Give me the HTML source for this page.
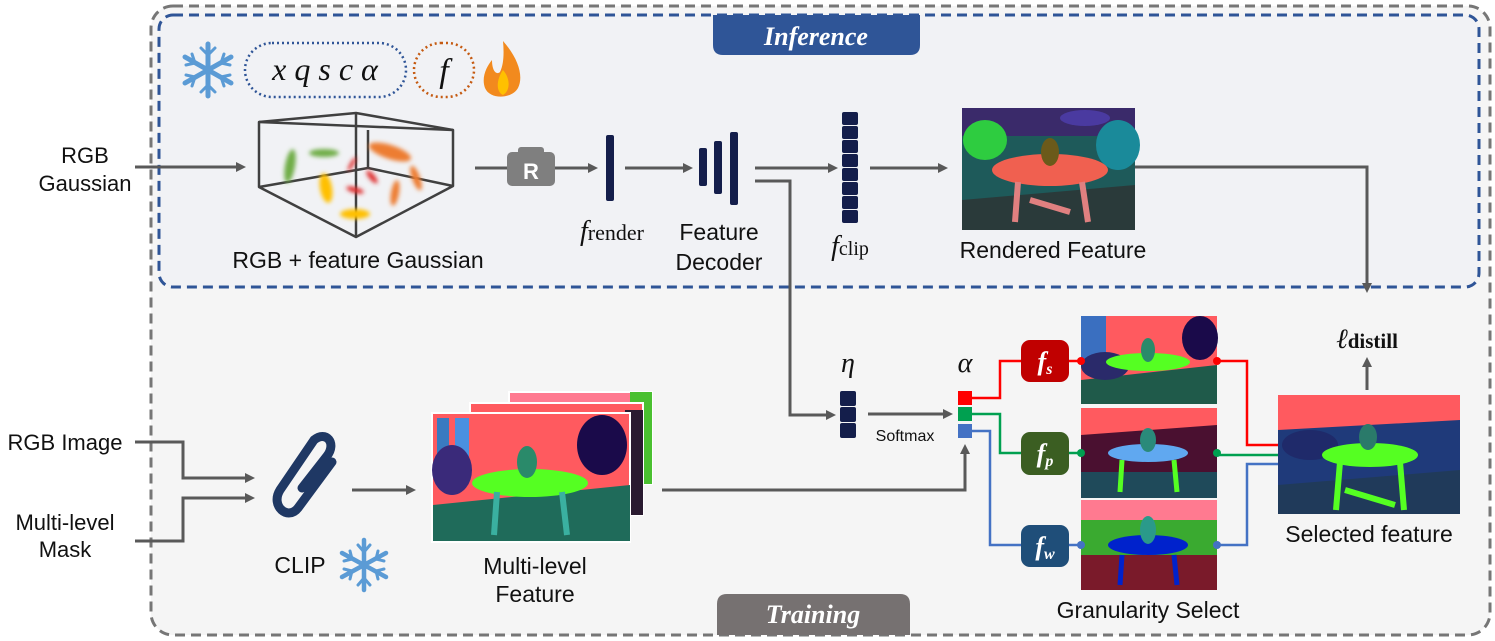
<!DOCTYPE html>
<html><head><meta charset="utf-8"><style>
body{margin:0;background:#fff}
svg{display:block}
text{font-family:"Liberation Sans","DejaVu Sans",sans-serif;fill:#111}
.s{font-family:"Liberation Serif","DejaVu Serif",serif;font-style:italic}
</style></head><body>
<svg width="1495" height="641" viewBox="0 0 1495 641" xmlns="http://www.w3.org/2000/svg">
<defs>
<marker id="ar" markerWidth="10" markerHeight="10" refX="7" refY="5" orient="auto" markerUnits="userSpaceOnUse"><path d="M0,0 L10,5 L0,10 z" fill="#595959"/></marker>
<filter id="bl"><feGaussianBlur stdDeviation="2"/></filter>
</defs>
<rect x="151" y="6" width="1339" height="629" rx="22" fill="#f5f5f5" stroke="#767676" stroke-width="3" stroke-dasharray="10,6"/>
<rect x="159" y="15" width="1320" height="272" rx="14" fill="#f1f2f5" stroke="#2f5597" stroke-width="3" stroke-dasharray="10,6"/>
<path d="M713,15 H920 V45 Q920,55 910,55 H723 Q713,55 713,45 Z" fill="#2f5597"/>
<text x="816" y="45" text-anchor="middle" class="s" font-weight="bold" font-size="26" style="fill:#fff">Inference</text>
<path d="M717,604 Q717,594 727,594 H900 Q910,594 910,604 V635 H717 Z" fill="#767171"/>
<text x="813" y="623" text-anchor="middle" class="s" font-weight="bold" font-size="26" style="fill:#fff">Training</text>

<g transform="translate(208,70)" stroke="#5b9bd5" stroke-width="5" stroke-linecap="round" fill="none">
<path d="M0,-26V26M-23,-13L23,13M-23,13L23,-13"/>
<path d="M-7,-22L0,-15L7,-22M-7,22L0,15L7,22M-22,-5L-13,-7L-16,-16M22,5L13,7L16,16M-22,5L-13,7L-16,16M22,-5L13,-7L16,-16" stroke-width="3"/>
</g>
<rect x="245" y="43" width="161" height="54" rx="27" fill="none" stroke="#2f5597" stroke-width="2.5" stroke-dasharray="2,3"/>
<text x="325" y="80" text-anchor="middle" class="s" font-size="32">x q s c α</text>
<rect x="414" y="43" width="60" height="54" rx="27" fill="none" stroke="#c55a11" stroke-width="2.5" stroke-dasharray="2,3"/>
<text x="444" y="82" text-anchor="middle" class="s" font-size="34">f</text>
<path d="M503,41 C518,58 524,76 518,88 C512,99 490,100 485,88 C481,77 487,66 492,60 C492,72 497,75 500,72 C504,64 504,52 503,41Z" fill="#f28a1e"/>
<path d="M503,70 C510,78 511,90 503,95 C496,92 496,80 503,70Z" fill="#ffc000"/>

<text x="85" y="163" text-anchor="middle" font-size="22">RGB</text>
<text x="85" y="191" text-anchor="middle" font-size="22">Gaussian</text>
<line x1="135" y1="167" x2="243" y2="167" stroke="#595959" stroke-width="3" marker-end="url(#ar)"/>
<g stroke="#404040" stroke-width="2.5" fill="none" stroke-linejoin="round">
<path d="M259,122 L356,113 L453,130 L453,186 L356,237 L259,187 Z"/>
<path d="M259,122 L453,130 M356,113 L356,237 M368,130 L368,168 L259,187 M368,168 L453,186"/>
</g>
<g filter="url(#bl)">
<ellipse cx="290" cy="166" rx="5" ry="17" fill="#70ad47" transform="rotate(10 290 166)"/>
<ellipse cx="324" cy="153" rx="15" ry="4" fill="#70ad47"/>
<ellipse cx="390" cy="152" rx="22" ry="7" fill="#ed7d31" transform="rotate(18 390 152)"/>
<ellipse cx="326" cy="188" rx="6" ry="15" fill="#ffc000" transform="rotate(-10 326 188)"/>
<ellipse cx="355" cy="214" rx="15" ry="5" fill="#ffc000"/>
<ellipse cx="395" cy="193" rx="4" ry="13" fill="#ed7d31" transform="rotate(10 395 193)"/>
<ellipse cx="416" cy="178" rx="4" ry="13" fill="#ed7d31" transform="rotate(-20 416 178)"/>
<ellipse cx="355" cy="190" rx="9" ry="3" fill="#e03030" transform="rotate(15 355 190)"/>
<ellipse cx="372" cy="177" rx="3" ry="8" fill="#e03030" transform="rotate(-40 372 177)"/>
<ellipse cx="352" cy="164" rx="2" ry="8" fill="#e03030" transform="rotate(30 352 164)"/>
</g>
<text x="358" y="268" text-anchor="middle" font-size="23">RGB + feature Gaussian</text>
<line x1="475" y1="168" x2="507" y2="168" stroke="#595959" stroke-width="3"/>
<rect x="507" y="152" width="48" height="34" rx="5" fill="#7f7f7f"/>
<rect x="518" y="147" width="26" height="8" rx="3" fill="#7f7f7f"/>
<text x="531" y="179" text-anchor="middle" font-size="22" font-weight="bold" style="fill:#fff">R</text>
<line x1="555" y1="168" x2="595" y2="168" stroke="#595959" stroke-width="3" marker-end="url(#ar)"/>
<rect x="606" y="135" width="8" height="66" rx="2" fill="#141e4b"/>
<text x="612" y="240" text-anchor="middle" class="s" font-size="28">f<tspan font-style="normal" font-size="22">render</tspan></text>
<line x1="625" y1="168" x2="690" y2="168" stroke="#595959" stroke-width="3" marker-end="url(#ar)"/>
<rect x="699" y="148" width="8" height="38" rx="2" fill="#141e4b"/>
<rect x="714" y="141" width="8" height="53" rx="2" fill="#141e4b"/>
<rect x="730" y="132" width="8" height="73" rx="2" fill="#141e4b"/>
<text x="719" y="240" text-anchor="middle" font-size="23">Feature</text>
<text x="719" y="270" text-anchor="middle" font-size="23">Decoder</text>
<line x1="755" y1="168" x2="835" y2="168" stroke="#595959" stroke-width="3" marker-end="url(#ar)"/>
<g fill="#141e4b">
<rect x="842" y="112" width="16" height="13" rx="2"/><rect x="842" y="126" width="16" height="13" rx="2"/><rect x="842" y="140" width="16" height="13" rx="2"/><rect x="842" y="154" width="16" height="13" rx="2"/><rect x="842" y="168" width="16" height="13" rx="2"/><rect x="842" y="182" width="16" height="13" rx="2"/><rect x="842" y="196" width="16" height="13" rx="2"/><rect x="842" y="210" width="16" height="13" rx="2"/>
</g>
<text x="850" y="255" text-anchor="middle" class="s" font-size="28">f<tspan font-style="normal" font-size="20">clip</tspan></text>
<line x1="870" y1="168" x2="945" y2="168" stroke="#595959" stroke-width="3" marker-end="url(#ar)"/>
<rect x="962" y="108" width="173" height="122" fill="#1e5a5a"/>
<rect x="962" y="108" width="173" height="28" fill="#3a2a6a"/>
<ellipse cx="985" cy="140" rx="22" ry="20" fill="#2ecc40"/>
<ellipse cx="1118" cy="145" rx="22" ry="25" fill="#1a8a9a"/>
<ellipse cx="1085" cy="118" rx="25" ry="8" fill="#4a3aa0"/>
<path d="M962,200 L1135,185 L1135,230 L962,230Z" fill="#2a3a3a"/>
<ellipse cx="1050" cy="170" rx="58" ry="16" fill="#f06050"/>
<path d="M1018,182 L1015,222 M1082,182 L1088,222 M1030,200 L1070,212" stroke="#e08080" stroke-width="6"/>
<ellipse cx="1050" cy="152" rx="9" ry="14" fill="#6b5a1a"/>
<text x="1053" y="258" text-anchor="middle" font-size="23">Rendered Feature</text>
<polyline points="1135,167 1367,167 1367,290" fill="none" stroke="#595959" stroke-width="3" marker-end="url(#ar)"/>
<text x="1367" y="348" text-anchor="middle" font-size="28" class="s">ℓ<tspan font-style="normal" font-family="Liberation Serif" font-weight="bold" font-size="21">distill</tspan></text>
<line x1="1367" y1="390" x2="1367" y2="360" stroke="#595959" stroke-width="3" marker-end="url(#ar)"/>
<polyline points="755,181 790,181 790,415 833,415" fill="none" stroke="#595959" stroke-width="3" marker-end="url(#ar)"/>
<text x="848" y="372" text-anchor="middle" class="s" font-size="28">η</text>
<rect x="840" y="391" width="16" height="15" rx="2" fill="#141e4b"/><rect x="840" y="407" width="16" height="15" rx="2" fill="#141e4b"/><rect x="840" y="423" width="16" height="15" rx="2" fill="#141e4b"/>
<line x1="868" y1="414" x2="950" y2="414" stroke="#595959" stroke-width="3" marker-end="url(#ar)"/>
<text x="905" y="441" text-anchor="middle" font-size="16">Softmax</text>
<text x="965" y="372" text-anchor="middle" class="s" font-size="28">α</text>
<rect x="958" y="391" width="14" height="14" fill="#ff0000"/><rect x="958" y="407" width="14" height="14" fill="#00a050"/><rect x="958" y="424" width="14" height="14" fill="#4472c4"/>
<polyline points="972,398 1000,398 1000,361 1022,361" fill="none" stroke="#ff0000" stroke-width="2.5"/>
<polyline points="972,414 1000,414 1000,453 1022,453" fill="none" stroke="#00a050" stroke-width="2.5"/>
<polyline points="972,431 990,431 990,545 1022,545" fill="none" stroke="#4472c4" stroke-width="2.5"/>
<rect x="1021" y="340" width="48" height="42" rx="9" fill="#c00000"/>
<text x="1045" y="370" text-anchor="middle" class="s" font-weight="bold" font-size="26" style="fill:#fff">f<tspan font-size="16" dy="4">s</tspan></text>
<rect x="1021" y="432" width="48" height="43" rx="9" fill="#3b5e22"/>
<text x="1045" y="462" text-anchor="middle" class="s" font-weight="bold" font-size="26" style="fill:#fff">f<tspan font-size="16" dy="4">p</tspan></text>
<rect x="1021" y="525" width="48" height="42" rx="9" fill="#1f4e79"/>
<text x="1045" y="555" text-anchor="middle" class="s" font-weight="bold" font-size="26" style="fill:#fff">f<tspan font-size="16" dy="4">w</tspan></text>
<line x1="1069" y1="361" x2="1081" y2="361" stroke="#ff0000" stroke-width="2.5"/>
<line x1="1069" y1="453" x2="1081" y2="453" stroke="#00a050" stroke-width="2.5"/>
<line x1="1069" y1="545" x2="1081" y2="545" stroke="#4472c4" stroke-width="2.5"/>
<g>
<rect x="1081" y="316" width="136" height="88" fill="#ff5a5f"/>
<rect x="1081" y="316" width="25" height="45" fill="#3a6fc0"/>
<ellipse cx="1200" cy="338" rx="18" ry="22" fill="#1a0a4a"/>
<path d="M1081,380 L1217,365 L1217,404 L1081,404Z" fill="#1f5a4a"/>
<ellipse cx="1105" cy="366" rx="24" ry="14" fill="#2a2a6a"/>
<ellipse cx="1148" cy="362" rx="42" ry="9" fill="#55ff22"/>
<ellipse cx="1148" cy="350" rx="7" ry="12" fill="#2a8a6a"/>
</g>
<g>
<rect x="1081" y="408" width="136" height="90" fill="#ff5a5f"/>
<path d="M1081,435 L1217,425 L1217,498 L1081,498Z" fill="#4a1030"/>
<rect x="1081" y="472" width="136" height="26" fill="#1f4a5a"/>
<ellipse cx="1148" cy="453" rx="40" ry="9" fill="#60a8f0"/>
<ellipse cx="1148" cy="440" rx="8" ry="12" fill="#2a8a7a"/>
<path d="M1122,460 L1120,492 M1174,460 L1177,492" stroke="#55ff22" stroke-width="5"/>
</g>
<g>
<rect x="1081" y="500" width="136" height="90" fill="#ff7a90"/>
<rect x="1081" y="520" width="136" height="35" fill="#3aaa30"/>
<rect x="1081" y="555" width="136" height="35" fill="#7a1a2a"/>
<ellipse cx="1148" cy="545" rx="40" ry="10" fill="#0022cc"/>
<path d="M1122,555 L1120,585 M1174,555 L1177,585" stroke="#0022cc" stroke-width="5"/>
<ellipse cx="1148" cy="530" rx="8" ry="14" fill="#2a9a8a"/>
</g>
<text x="1148" y="618" text-anchor="middle" font-size="23">Granularity Select</text>
<circle cx="1081" cy="361" r="4" fill="#ff0000"/><circle cx="1217" cy="361" r="4" fill="#ff0000"/>
<circle cx="1081" cy="453" r="4" fill="#00a050"/><circle cx="1217" cy="453" r="4" fill="#00a050"/>
<circle cx="1081" cy="545" r="4" fill="#4472c4"/><circle cx="1217" cy="545" r="4" fill="#4472c4"/>
<polyline points="1217,361 1247,361 1247,445 1278,445" fill="none" stroke="#ff0000" stroke-width="2.5"/>
<polyline points="1217,455 1278,455" fill="none" stroke="#00a050" stroke-width="2.5"/>
<polyline points="1217,545 1247,545 1247,464 1278,464" fill="none" stroke="#4472c4" stroke-width="2.5"/>
<rect x="1278" y="395" width="182" height="119" fill="#ff5a5f"/>
<path d="M1278,430 L1460,420 L1460,514 L1278,514Z" fill="#1f3a7a"/>
<path d="M1278,485 L1460,470 L1460,514 L1278,514Z" fill="#203a5a"/>
<ellipse cx="1310" cy="445" rx="28" ry="15" fill="#1f2a6a"/>
<ellipse cx="1370" cy="455" rx="48" ry="12" fill="#55ff22"/>
<path d="M1340,462 L1336,510 M1400,462 L1404,510 M1345,490 L1395,505" stroke="#55ff22" stroke-width="6"/>
<ellipse cx="1368" cy="437" rx="9" ry="13" fill="#2a7a6a"/>
<text x="1369" y="542" text-anchor="middle" font-size="23">Selected feature</text>
<text x="65" y="450" text-anchor="middle" font-size="22">RGB Image</text>
<text x="65" y="530" text-anchor="middle" font-size="22">Multi-level</text>
<text x="65" y="557" text-anchor="middle" font-size="22">Mask</text>
<polyline points="135,442 183,442 183,478 252,478" fill="none" stroke="#595959" stroke-width="3" marker-end="url(#ar)"/>
<polyline points="135,541 183,541 183,498 252,498" fill="none" stroke="#595959" stroke-width="3" marker-end="url(#ar)"/>
<path d="M302,488 L327,456 C337,443 326,430 314,440 L280,490 C270,506 288,521 298,508 L332,462" fill="none" stroke="#1f3864" stroke-width="9" stroke-linecap="round"/>
<text x="300" y="573" text-anchor="middle" font-size="23">CLIP</text>
<g transform="translate(364,565)" stroke="#5b9bd5" stroke-width="4.5" stroke-linecap="round" fill="none">
<path d="M0,-25V25M-22,-12L22,12M-22,12L22,-12"/>
<path d="M-6,-20L0,-13L6,-20M-6,20L0,13L6,20M-20,-4L-12,-6L-14,-14M20,4L12,6L14,14M-20,4L-12,6L-14,14M20,-4L12,-6L14,-14" stroke-width="3"/>
</g>
<line x1="352" y1="490" x2="413" y2="490" stroke="#595959" stroke-width="3" marker-end="url(#ar)"/>
<rect x="509" y="392" width="143" height="92" fill="#ff7a90" stroke="#fff" stroke-width="2"/>
<rect x="630" y="392" width="22" height="92" fill="#4ac030"/>
<rect x="470" y="403" width="173" height="112" fill="#ff5a5f" stroke="#fff" stroke-width="2"/>
<rect x="625" y="410" width="18" height="105" fill="#2a1a30"/>
<rect x="432" y="413" width="198" height="129" fill="#ff5a5f" stroke="#fff" stroke-width="2"/>
<rect x="437" y="418" width="12" height="60" fill="#3a7ac0"/><rect x="455" y="418" width="14" height="55" fill="#4a90e0"/>
<ellipse cx="452" cy="470" rx="20" ry="25" fill="#3a2a7a"/>
<ellipse cx="602" cy="445" rx="25" ry="30" fill="#1a0a4a"/>
<path d="M433,505 L630,485 L630,541 L433,541Z" fill="#1f6b5a"/>
<ellipse cx="530" cy="483" rx="58" ry="14" fill="#55ff22"/>
<ellipse cx="527" cy="462" rx="10" ry="16" fill="#2a8a6a"/>
<path d="M497,492 L494,535 M562,492 L567,535" stroke="#3ab0a0" stroke-width="6"/>
<text x="535" y="574" text-anchor="middle" font-size="23">Multi-level</text>
<text x="535" y="602" text-anchor="middle" font-size="23">Feature</text>
<polyline points="662,490 965,490 965,447" fill="none" stroke="#595959" stroke-width="3" marker-end="url(#ar)"/>
</svg>
</body></html>
